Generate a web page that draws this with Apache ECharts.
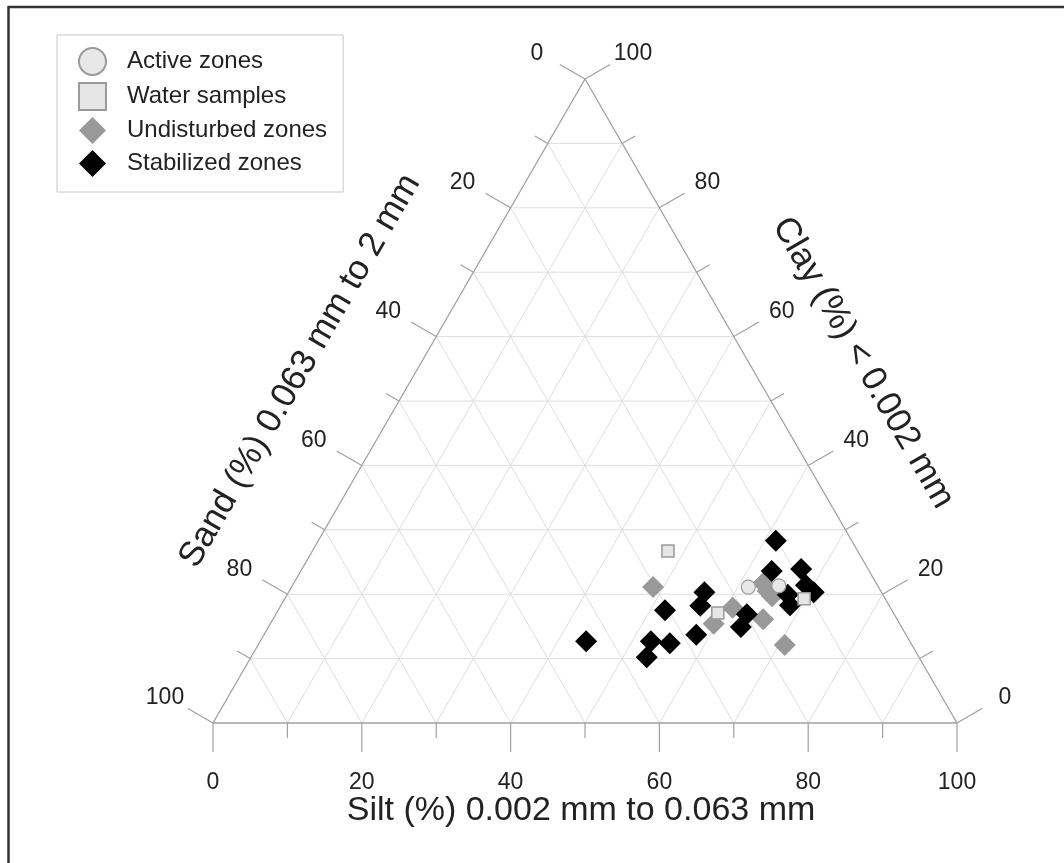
<!DOCTYPE html>
<html>
<head>
<meta charset="utf-8">
<script src="https://cdn.jsdelivr.net/npm/echarts@6/dist/echarts.min.js"></script>
<style>
html,body{margin:0;padding:0;background:#fff;}
#chart{width:1064px;height:863px;}
</style>
</head>
<body>
<div id="chart"></div>
<script>
// ---- data: [silt %, clay %]  (sand = 100 - silt - clay) ----
const activeZones = [[61.4,21.1],[65.4,21.3]];
const waterSamples = [[47.8,26.7],[59.3,17.1],[69.8,19.3]];
const undisturbedZones = [[48.6,21.1],[60.9,17.9],[59.6,15.4],[65.9,16.1],[70.8,12.1],[63.1,21.7],[64.3,20.5],[65.3,19.7]];
const stabilizedZones = [[61.5,28.3],[63.3,23.6],[67.1,23.9],[69.0,21.4],[70.6,20.3],[67.3,19.9],[68.4,18.3],
  [55.9,20.3],[56.4,18.2],[52.0,17.5],[63.3,16.9],[63.5,14.9],[58.1,13.7],[43.8,12.7],[52.5,12.7],[55.2,12.4],[53.2,10.2]];
const seriesNames = ['Active zones','Water samples','Undisturbed zones','Stabilized zones'];
const tickValues = [0,10,20,30,40,50,60,70,80,90,100];
const majorStep = 20;
const axisTitles = {silt:'Silt (%) 0.002 mm to 0.063 mm', sand:'Sand (%) 0.063 mm to 2 mm', clay:'Clay (%) < 0.002 mm'};

// ternary -> cartesian data space (x: silt + clay/2, y: clay)
function toXY(silt, clay){ return [silt + clay/2, clay]; }
function conv(arr){ return arr.map(p => toXY(p[0], p[1])); }

// grid segments
const gridSegs = [];
tickValues.forEach(v => {
  if (v === 0 || v === 100) return;
  gridSegs.push([...toXY(0,v), ...toXY(100-v,v), 0]);
  gridSegs.push([...toXY(v,0), ...toXY(v,100-v), 0]);
  gridSegs.push([...toXY(100-v,0), ...toXY(0,100-v), 0]);
});
gridSegs.push([...toXY(0,0), ...toXY(100,0), 1]);
gridSegs.push([...toXY(0,0), ...toXY(0,100), 1]);
gridSegs.push([...toXY(100,0), ...toXY(0,100), 1]);

const tickItems = [];
[0,1,2].forEach(s => tickValues.forEach(v => tickItems.push([s, v])));

const FONT = "'Liberation Sans', Arial, sans-serif";

const chart = echarts.init(document.getElementById('chart'), null, {renderer:'canvas'});
chart.setOption({
  animation: false,
  backgroundColor: '#fff',
  grid: {left: 213, top: 79, width: 744, height: 644},
  xAxis: {type:'value', min:0, max:100, show:false},
  yAxis: {type:'value', min:0, max:100, show:false},
  legend: {
    left: 57, top: 35,
    orient: 'vertical',
    data: seriesNames,
    itemWidth: 27, itemHeight: 27, itemGap: 6,
    backgroundColor: '#fff',
    borderColor: '#c8c8c8', borderWidth: 1,
    padding: [12, 16, 15, 21],
    textStyle: {fontFamily: FONT, fontSize: 24, color: '#222', padding: [0,0,0,16]}
  },
  graphic: [
    {type:'line', shape:{x1:8, y1:7, x2:1064, y2:7}, style:{stroke:'#333', lineWidth:2.5}, z:100},
    {type:'line', shape:{x1:8.5, y1:6, x2:8.5, y2:863}, style:{stroke:'#333', lineWidth:2.5}, z:100},
    {type:'text', x:581, y:811, style:{text:axisTitles.silt, font:'34px '+FONT, fill:'#222', textAlign:'center', textVerticalAlign:'middle'}},
    {type:'text', x:300, y:371, rotation:Math.PI/3, style:{text:axisTitles.sand, font:'35px '+FONT, fill:'#222', textAlign:'center', textVerticalAlign:'middle'}},
    {type:'text', x:863, y:363, rotation:-Math.PI/3, style:{text:axisTitles.clay, font:'35px '+FONT, fill:'#222', textAlign:'center', textVerticalAlign:'middle'}}
  ],
  series: [
    {
      type:'custom', name:'grid', silent:true, z:1,
      data: gridSegs,
      renderItem: function(params, api){
        const a = api.coord([api.value(0), api.value(1)]);
        const b = api.coord([api.value(2), api.value(3)]);
        const edge = api.value(4) === 1;
        return {type:'line', shape:{x1:a[0], y1:a[1], x2:b[0], y2:b[1]},
          style:{stroke: edge ? '#a0a0a0' : '#dedede', lineWidth: edge ? 1.3 : 1}, z2: edge ? 2 : 1};
      }
    },
    {
      type:'custom', name:'ticks', silent:true, z:1,
      data: tickItems,
      renderItem: function(params, api){
        const side = api.value(0), v = api.value(1);
        let p, dir, off;
        if (side === 0) { p = api.coord(toXY(v,0)); dir=[0,1]; off=[0,60]; }
        else if (side === 1) { p = api.coord(toXY(0,100-v)); dir=[-0.866,-0.5]; off=[-48,-25]; }
        else { p = api.coord(toXY(100-v,v)); dir=[0.866,-0.5]; off=[48,-25]; }
        const major = v % majorStep === 0;
        const len = major ? 29 : 15;
        const children = [{type:'line', shape:{x1:p[0], y1:p[1], x2:p[0]+dir[0]*len, y2:p[1]+dir[1]*len},
          style:{stroke:'#a0a0a0', lineWidth:1.2}}];
        if (major) children.push({type:'text', x:p[0]+off[0], y:p[1]+off[1],
          style:{text:String(v), font:'23px '+FONT, fill:'#222', textAlign:'center', textVerticalAlign:'middle'}});
        return {type:'group', children: children};
      }
    },
    {type:'scatter', name:seriesNames[2], data:conv(undisturbedZones), symbol:'diamond', symbolSize:22, z:3,
      itemStyle:{color:'#999999', opacity:1}},
    {type:'scatter', name:seriesNames[3], data:conv(stabilizedZones), symbol:'diamond', symbolSize:22, z:3,
      itemStyle:{color:'#000000', opacity:1}},
    {type:'scatter', name:seriesNames[0], data:conv(activeZones), symbol:'circle', symbolSize:14, z:4,
      itemStyle:{color:'#e8e8e8', borderColor:'#9a9a9a', borderWidth:1.2, opacity:1}},
    {type:'scatter', name:seriesNames[1], data:conv(waterSamples), symbol:'rect', symbolSize:12, z:4,
      itemStyle:{color:'#e6e6e6', borderColor:'#9a9a9a', borderWidth:1.5, opacity:1}}
  ]
});
</script>
</body>
</html>
